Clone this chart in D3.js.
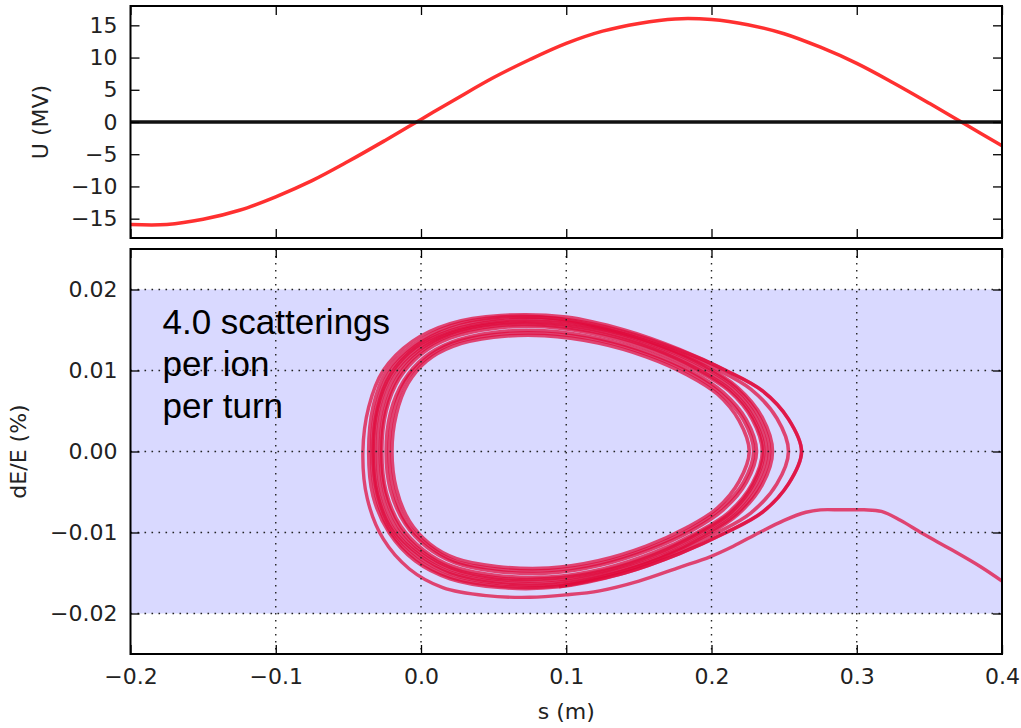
<!DOCTYPE html>
<html>
<head>
<meta charset="utf-8">
<script src="https://cdn.jsdelivr.net/npm/d3@7"></script>
<style>
  html, body { margin: 0; padding: 0; background: #fff; }
  svg { display: block; }
</style>
</head>
<body>
<svg id="chart" width="1021" height="728"></svg>
<script>
// ---- RF voltage along the bunch (top panel) ----
const sSamples = [-0.2, -0.175, -0.15, -0.125, -0.1, -0.075, -0.05, -0.025, 0.0,
  0.025, 0.05, 0.075, 0.1, 0.125, 0.15, 0.175, 0.2, 0.225, 0.25, 0.275, 0.3,
  0.325, 0.35, 0.375, 0.4];
const voltageMV = [-15.9, -15.9, -15.1, -13.7, -11.6, -9.1, -6.1, -2.9, 0.4,
  3.7, 6.9, 9.7, 12.2, 14.1, 15.3, 16.0, 15.9, 15.1, 13.7, 11.6, 9.1,
  6.1, 2.9, -0.4, -3.7];

// ---- axis ticks ----
const sTicks = [-0.2, -0.1, 0.0, 0.1, 0.2, 0.3, 0.4];
const sTickLabels = ["\u22120.2", "\u22120.1", "0.0", "0.1", "0.2", "0.3", "0.4"];
const uTicks = [-15, -10, -5, 0, 5, 10, 15];
const uTickLabels = ["\u221215", "\u221210", "\u22125", "0", "5", "10", "15"];
const dETicks = [-0.02, -0.01, 0.0, 0.01, 0.02];
const dETickLabels = ["\u22120.02", "\u22120.01", "0.00", "0.01", "0.02"];

// ---- energy acceptance band (dE/E, %) ----
const acceptance = [-0.02, 0.02];

// ---- longitudinal phase-space orbits [s (m), dE/E (%)] ----
const orbitA = [[0.226,0],[0.219,0.0038],[0.204,0.0071],[0.183,0.0095],[0.155,0.0117],[0.122,0.0134],
  [0.085,0.0143],[0.050,0.0141],[0.022,0.0130],[0.004,0.0112],[-0.009,0.0084],[-0.017,0.0046],
  [-0.020,0],[-0.017,-0.0046],[-0.008,-0.0086],[0.006,-0.0114],[0.024,-0.0132],[0.052,-0.0142],
  [0.088,-0.0144],[0.122,-0.0135],[0.155,-0.0117],[0.183,-0.0094],[0.204,-0.0070],[0.219,-0.0037]];
const orbitAB = [[0.229,0],[0.222,0.0039],[0.206,0.0072],[0.185,0.0097],[0.157,0.0119],[0.123,0.0137],
  [0.085,0.0146],[0.050,0.0144],[0.021,0.0133],[0.003,0.0114],[-0.011,0.0086],[-0.019,0.0047],
  [-0.022,0],[-0.019,-0.0047],[-0.010,-0.0088],[0.005,-0.0116],[0.023,-0.0135],[0.052,-0.0145],
  [0.088,-0.0147],[0.123,-0.0138],[0.157,-0.0119],[0.185,-0.0096],[0.206,-0.0071],[0.222,-0.0038]];
const orbitB = [[0.231,0],[0.224,0.0039],[0.208,0.0073],[0.187,0.0098],[0.158,0.0121],[0.124,0.0139],
  [0.085,0.0149],[0.050,0.0147],[0.021,0.0135],[0.002,0.0116],[-0.012,0.0087],[-0.021,0.0048],
  [-0.024,0],[-0.021,-0.0048],[-0.011,-0.0089],[0.004,-0.0118],[0.023,-0.0137],[0.052,-0.0148],
  [0.088,-0.0150],[0.124,-0.0140],[0.158,-0.0121],[0.187,-0.0097],[0.208,-0.0072],[0.224,-0.0038]];
const orbitC = [[0.235,0],[0.228,0.0040],[0.212,0.0075],[0.190,0.0100],[0.160,0.0124],[0.125,0.0143],
  [0.085,0.0154],[0.050,0.0152],[0.020,0.0140],[0.000,0.0120],[-0.015,0.0090],[-0.024,0.0050],
  [-0.027,0],[-0.024,-0.0050],[-0.014,-0.0092],[0.002,-0.0122],[0.022,-0.0142],[0.052,-0.0153],
  [0.088,-0.0155],[0.125,-0.0145],[0.160,-0.0125],[0.190,-0.0100],[0.212,-0.0075],[0.228,-0.0040]];
const orbitCD = [[0.236,0],[0.229,0.0041],[0.213,0.0076],[0.191,0.0101],[0.161,0.0126],[0.126,0.0145],
  [0.086,0.0156],[0.051,0.0155],[0.020,0.0143],[-0.001,0.0122],[-0.016,0.0092],[-0.025,0.0051],
  [-0.028,0],[-0.025,-0.0051],[-0.015,-0.0094],[0.001,-0.0124],[0.021,-0.0144],[0.052,-0.0156],
  [0.089,-0.0157],[0.126,-0.0147],[0.161,-0.0127],[0.191,-0.0101],[0.213,-0.0076],[0.229,-0.0040]];
const orbitD = [[0.238,0],[0.231,0.0041],[0.215,0.0077],[0.192,0.0103],[0.162,0.0127],[0.127,0.0147],
  [0.087,0.0158],[0.051,0.0157],[0.020,0.0145],[-0.002,0.0124],[-0.018,0.0093],[-0.027,0.0052],
  [-0.030,0],[-0.027,-0.0052],[-0.017,-0.0095],[0.000,-0.0126],[0.021,-0.0146],[0.053,-0.0158],
  [0.090,-0.0159],[0.127,-0.0148],[0.162,-0.0128],[0.192,-0.0102],[0.215,-0.0076],[0.231,-0.0040]];
const orbitDE = [[0.240,0],[0.233,0.0042],[0.217,0.0078],[0.194,0.0105],[0.164,0.0129],[0.128,0.0149],
  [0.088,0.0160],[0.052,0.0159],[0.020,0.0147],[-0.003,0.0126],[-0.020,0.0094],[-0.029,0.0053],
  [-0.032,0],[-0.029,-0.0053],[-0.019,-0.0096],[-0.001,-0.0128],[0.020,-0.0149],[0.053,-0.0161],
  [0.090,-0.0162],[0.128,-0.0150],[0.164,-0.0130],[0.194,-0.0104],[0.217,-0.0077],[0.233,-0.0041]];
const orbitE = [[0.242,0],[0.235,0.0042],[0.218,0.0079],[0.195,0.0106],[0.165,0.0130],[0.129,0.0150],
  [0.089,0.0162],[0.052,0.0161],[0.020,0.0149],[-0.004,0.0128],[-0.021,0.0095],[-0.030,0.0053],
  [-0.033,0],[-0.030,-0.0053],[-0.020,-0.0097],[-0.002,-0.0130],[0.020,-0.0151],[0.053,-0.0163],
  [0.091,-0.0164],[0.129,-0.0152],[0.165,-0.0131],[0.195,-0.0105],[0.218,-0.0078],[0.235,-0.0041]];
const orbitF = [[0.253,0],[0.245,0.0041],[0.227,0.0077],[0.203,0.0102],[0.172,0.0126],[0.135,0.0148],
  [0.093,0.0164],[0.054,0.0164],[0.020,0.0152],[-0.004,0.0130],[-0.022,0.0097],[-0.031,0.0054],
  [-0.034,0],[-0.031,-0.0054],[-0.021,-0.0099],[-0.003,-0.0133],[0.020,-0.0155],[0.054,-0.0166],
  [0.093,-0.0166],[0.135,-0.0150],[0.172,-0.0127],[0.203,-0.0101],[0.227,-0.0076],[0.245,-0.0040]];
const orbitG = [[0.262,0],[0.253,0.0040],[0.235,0.0075],[0.210,0.0100],[0.178,0.0125],[0.140,0.0148],
  [0.095,0.0164],[0.055,0.0166],[0.020,0.0155],[-0.005,0.0132],[-0.024,0.0098],[-0.033,0.0055],
  [-0.036,0],[-0.033,-0.0055],[-0.022,-0.0100],[-0.004,-0.0135],[0.020,-0.0157],[0.055,-0.0168],
  [0.095,-0.0167],[0.140,-0.0150],[0.178,-0.0126],[0.210,-0.0100],[0.235,-0.0075],[0.253,-0.0040]];
// last turn of the particle that leaves the bucket
const escapeTrack = [[0.095,-0.0167],[0.140,-0.0150],[0.178,-0.0126],[0.210,-0.0100],[0.235,-0.0075],
  [0.253,-0.0040],[0.262,0],[0.253,0.0040],[0.235,0.0075],[0.210,0.0100],[0.178,0.0126],
  [0.140,0.0150],[0.100,0.0166],[0.055,0.0168],[0.020,0.0158],
  [-0.006,0.0136],[-0.026,0.0100],[-0.036,0.0055],[-0.040,0],[-0.037,-0.0058],[-0.026,-0.0108],
  [-0.008,-0.0145],[0.015,-0.0168],[0.045,-0.0178],[0.075,-0.0180],[0.100,-0.0177],[0.123,-0.0172],
  [0.150,-0.0160],[0.178,-0.0143],[0.199,-0.0130],[0.215,-0.0117],[0.233,-0.0100],[0.250,-0.0085],
  [0.265,-0.0075],[0.275,-0.0072],[0.290,-0.0072],[0.305,-0.0072],[0.317,-0.0074],[0.330,-0.0085],
  [0.345,-0.0101],[0.366,-0.0122],[0.385,-0.0142],[0.400,-0.0160]];
const closedOrbits = [orbitA, orbitAB, orbitB, orbitC, orbitCD, orbitD, orbitDE, orbitE, orbitF, orbitG];

const noteLines = ["4.0 scatterings", "per ion", "per turn"];
const notePos = [-0.178, 0.0145];

// ---- layout ----
const svg = d3.select("#chart");
const left = 130.5, right = 1002;
const top1 = 6, bot1 = 238;
const top2 = 249, bot2 = 654;
const tickFont = "DejaVu Sans, sans-serif";

const x = d3.scaleLinear().domain([-0.2, 0.4]).range([left, right]);
const yU = d3.scaleLinear().domain([-18, 18]).range([bot1, top1]);
const yE = d3.scaleLinear().domain([-0.025, 0.025]).range([bot2, top2]);

svg.append("rect").attr("width", 1021).attr("height", 728).attr("fill", "#fff");

const defs = svg.append("defs");
defs.append("clipPath").attr("id", "clipTop").append("rect")
  .attr("x", left).attr("y", top1).attr("width", right - left).attr("height", bot1 - top1);
defs.append("clipPath").attr("id", "clipBot").append("rect")
  .attr("x", left).attr("y", top2).attr("width", right - left).attr("height", bot2 - top2);

function styleAxis(g, size) {
  g.select(".domain").remove();
  g.selectAll(".tick line").attr("stroke", "#000").attr("stroke-width", 1.3);
  g.selectAll(".tick text").attr("fill", "#222").style("font-family", tickFont).style("font-size", size + "px");
}

// ===== top panel =====
const topG = svg.append("g");
const voltagePts = sSamples.map((s, i) => [s, voltageMV[i]]);
topG.append("path")
  .attr("clip-path", "url(#clipTop)")
  .attr("d", d3.line().x(d => x(d[0])).y(d => yU(d[1])).curve(d3.curveCatmullRom)(voltagePts))
  .attr("fill", "none").attr("stroke", "#ff1a1a").attr("stroke-width", 3.5).attr("opacity", 0.9);
topG.append("line")
  .attr("x1", left).attr("x2", right).attr("y1", yU(0)).attr("y2", yU(0))
  .attr("stroke", "#111").attr("stroke-width", 3.5);

const tickLen = 9;
topG.append("g").attr("transform", `translate(${left},0)`)
  .call(d3.axisLeft(yU).tickValues(uTicks).tickFormat((d, i) => uTickLabels[i]).tickSizeInner(-tickLen).tickSizeOuter(0).tickPadding(13))
  .call(g => styleAxis(g, 22));
topG.append("g").attr("transform", `translate(${right},0)`)
  .call(d3.axisRight(yU).tickValues(uTicks).tickFormat("").tickSizeInner(-tickLen).tickSizeOuter(0))
  .call(g => styleAxis(g, 22));
topG.append("g").attr("transform", `translate(0,${bot1})`)
  .call(d3.axisBottom(x).tickValues(sTicks).tickFormat("").tickSizeInner(-tickLen).tickSizeOuter(0))
  .call(g => styleAxis(g, 22));
topG.append("g").attr("transform", `translate(0,${top1})`)
  .call(d3.axisTop(x).tickValues(sTicks).tickFormat("").tickSizeInner(-tickLen).tickSizeOuter(0))
  .call(g => styleAxis(g, 22));
topG.append("rect").attr("x", left).attr("y", top1).attr("width", right - left).attr("height", bot1 - top1)
  .attr("fill", "none").attr("stroke", "#000").attr("stroke-width", 2);

topG.append("text")
  .attr("transform", `translate(48,${(top1 + bot1) / 2}) rotate(-90)`)
  .attr("text-anchor", "middle")
  .style("font-family", tickFont).style("font-size", "22px").attr("fill", "#222")
  .text("U (MV)");

// ===== bottom panel =====
const botG = svg.append("g");
botG.append("rect")
  .attr("x", left).attr("width", right - left)
  .attr("y", yE(acceptance[1])).attr("height", yE(acceptance[0]) - yE(acceptance[1]))
  .attr("fill", "#d9d9ff");

const orbitColor = "#e0083a";
const orbitLine = d3.line().x(d => x(d[0])).y(d => yE(d[1]));
const orbitsG = botG.append("g").attr("clip-path", "url(#clipBot)");
closedOrbits.forEach(orb => {
  orbitsG.append("path")
    .attr("d", orbitLine.curve(d3.curveCatmullRomClosed)(orb))
    .attr("fill", "none").attr("stroke", orbitColor).attr("stroke-width", 3.6)
    .attr("stroke-opacity", 0.72);
});
orbitsG.append("path")
  .attr("d", orbitLine.curve(d3.curveCatmullRom)(escapeTrack))
  .attr("fill", "none").attr("stroke", orbitColor).attr("stroke-width", 3.4)
  .attr("stroke-opacity", 0.72);

// dotted grid
const gridG = botG.append("g").attr("stroke", "#222").attr("stroke-width", 1.4)
  .attr("stroke-dasharray", "1.6,5.4");
sTicks.slice(1, -1).forEach(s => gridG.append("line")
  .attr("x1", x(s)).attr("x2", x(s)).attr("y1", top2).attr("y2", bot2));
dETicks.forEach(v => gridG.append("line")
  .attr("x1", left).attr("x2", right).attr("y1", yE(v)).attr("y2", yE(v)));

botG.append("g").attr("transform", `translate(${left},0)`)
  .call(d3.axisLeft(yE).tickValues(dETicks).tickFormat((d, i) => dETickLabels[i]).tickSizeInner(-tickLen).tickSizeOuter(0).tickPadding(13))
  .call(g => styleAxis(g, 22));
botG.append("g").attr("transform", `translate(${right},0)`)
  .call(d3.axisRight(yE).tickValues(dETicks).tickFormat("").tickSizeInner(-tickLen).tickSizeOuter(0))
  .call(g => styleAxis(g, 22));
botG.append("g").attr("transform", `translate(0,${bot2})`)
  .call(d3.axisBottom(x).tickValues(sTicks).tickFormat((d, i) => sTickLabels[i]).tickSizeInner(-tickLen).tickSizeOuter(0).tickPadding(14))
  .call(g => styleAxis(g, 22));
botG.append("g").attr("transform", `translate(0,${top2})`)
  .call(d3.axisTop(x).tickValues(sTicks).tickFormat("").tickSizeInner(-tickLen).tickSizeOuter(0))
  .call(g => styleAxis(g, 22));
botG.append("rect").attr("x", left).attr("y", top2).attr("width", right - left).attr("height", bot2 - top2)
  .attr("fill", "none").attr("stroke", "#000").attr("stroke-width", 2);

botG.append("text")
  .attr("transform", `translate(26,${(top2 + bot2) / 2}) rotate(-90)`)
  .attr("text-anchor", "middle")
  .style("font-family", tickFont).style("font-size", "22px").attr("fill", "#222")
  .text("dE/E (%)");

svg.append("text")
  .attr("x", (left + right) / 2).attr("y", 719)
  .attr("text-anchor", "middle")
  .style("font-family", tickFont).style("font-size", "22px").attr("fill", "#222")
  .text("s (m)");

// annotation
const note = botG.append("text")
  .style("font-family", "Liberation Sans, Arial, sans-serif").style("font-size", "35px").attr("fill", "#000");
noteLines.forEach((t, i) => note.append("tspan")
  .attr("x", x(notePos[0])).attr("y", yE(notePos[1]) + i * 42).text(t));
</script>
</body>
</html>
